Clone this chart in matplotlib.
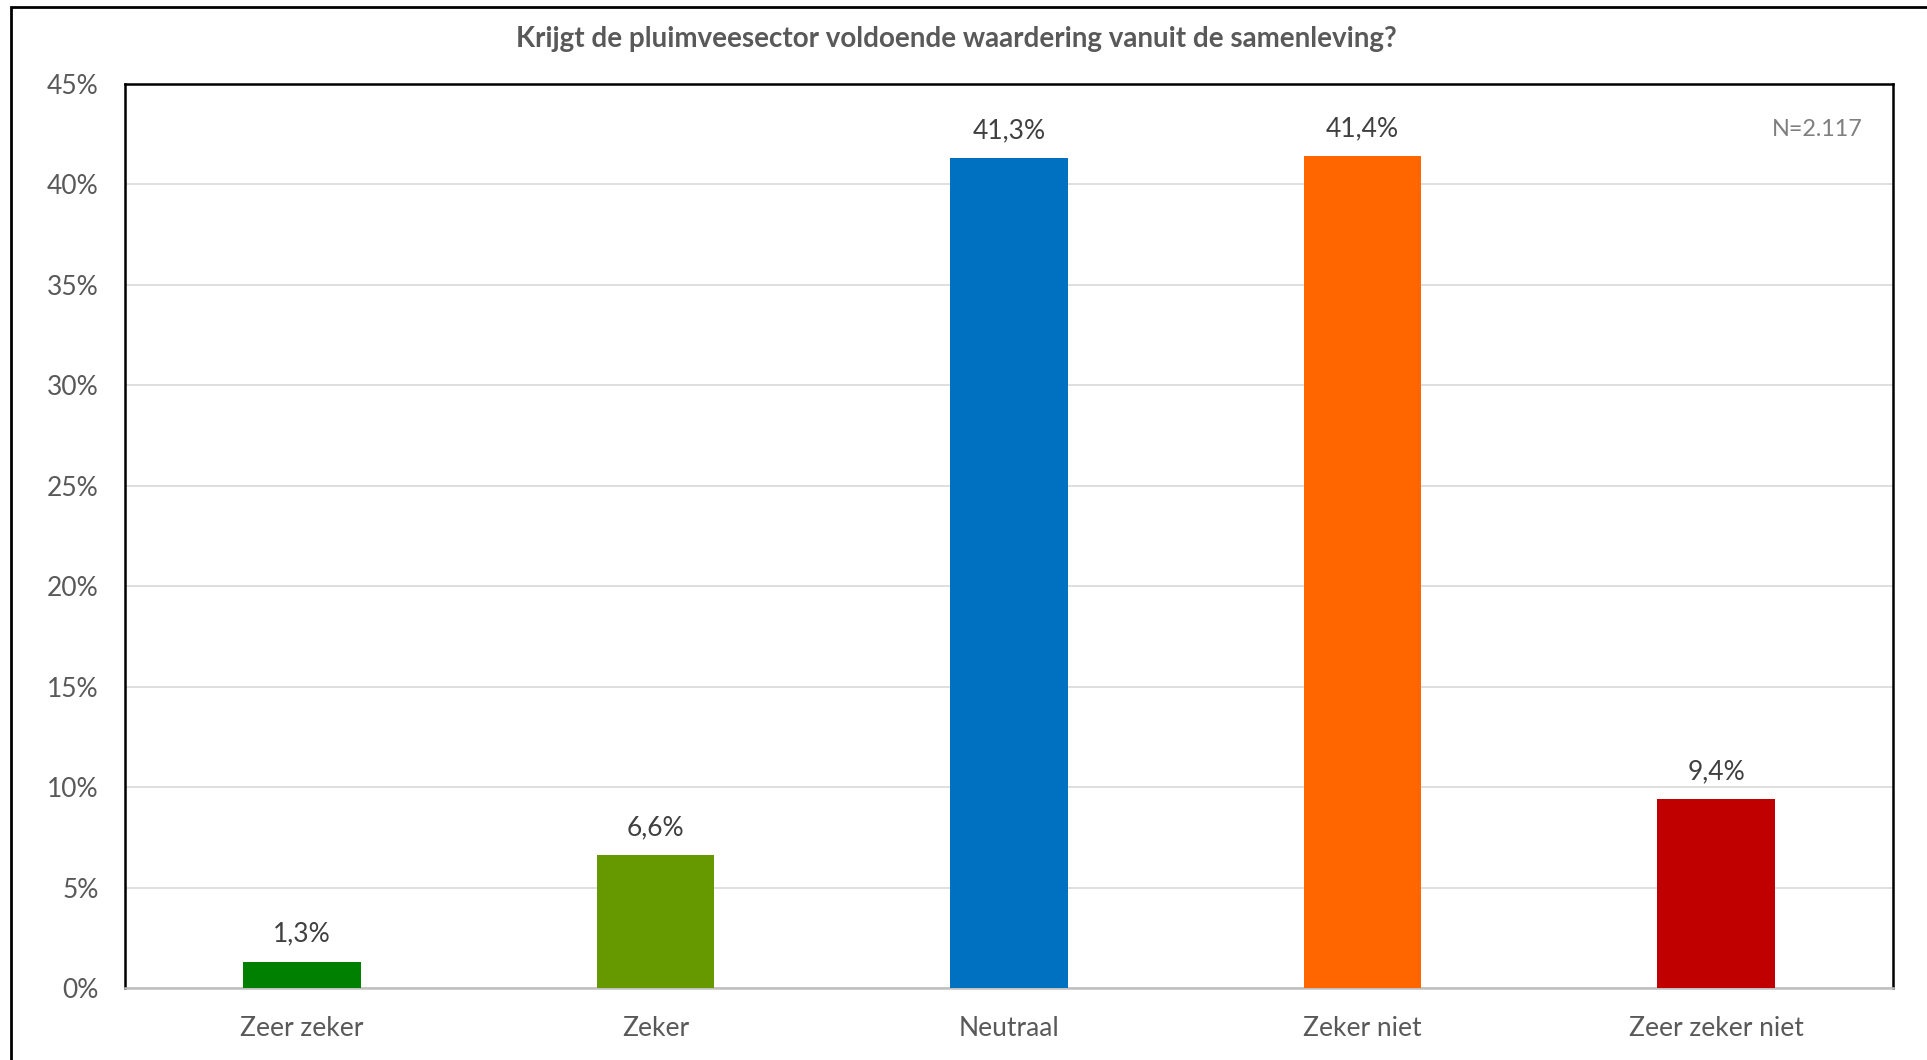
import matplotlib
matplotlib.use("Agg")
import matplotlib.pyplot as plt
from matplotlib.patches import Rectangle

categories = ["Zeer zeker", "Zeker", "Neutraal", "Zeker niet", "Zeer zeker niet"]
values = [1.3, 6.6, 41.3, 41.4, 9.4]
colors = ["#008000", "#669900", "#0070C0", "#FF6600", "#C00000"]
yticks = [0, 5, 10, 15, 20, 25, 30, 35, 40, 45]
title = "Krijgt de pluimveesector voldoende waardering vanuit de samenleving?"
note = "N=2.117"

plt.rcParams['font.family'] = ['Lato', 'DejaVu Sans']

W, H = 1927, 1060
fig = plt.figure(figsize=(W / 100, H / 100), dpi=100)
fig.patch.set_facecolor("white")

# outer frame
fig.patches.append(Rectangle((11 / W, -0.05), 1.2, 1 - 7 / H + 0.05,
                             transform=fig.transFigure, fill=False,
                             edgecolor="#000000", linewidth=2))

ax = fig.add_axes([125 / W, (H - 988) / H, (1893 - 125) / W, (988 - 84) / H])
x = list(range(len(categories)))
ax.bar(x, values, width=0.333, color=colors, zorder=3)

ax.set_xlim(-0.5, len(categories) - 0.5)
ax.set_ylim(0, 45)
ax.set_yticks(yticks)
ax.set_yticklabels([f"{t}%" for t in yticks])
ax.set_xticks(x)
ax.set_xticklabels(categories)
ax.tick_params(axis='both', length=0, labelsize=19, colors="#595959")
ax.tick_params(axis='y', pad=19)
ax.tick_params(axis='x', pad=20)
ax.yaxis.grid(True, color="#D9D9D9", linewidth=1.2, zorder=0)
ax.set_axisbelow(True)

for s in ["left", "top", "right"]:
    ax.spines[s].set_color("#000000")
    ax.spines[s].set_linewidth(1.8)
ax.spines["bottom"].set_color("#BFBFBF")
ax.spines["bottom"].set_linewidth(1.8)

for xi, v in zip(x, values):
    ax.annotate(f"{v:.1f}%".replace(".", ","), (xi, v), xytext=(0, 20),
                textcoords="offset points", ha="center", va="center",
                fontsize=19, color="#404040")

ax.text(0.983, 0.95, note, transform=ax.transAxes, ha="right", va="center",
        fontsize=16.8, color="#7F7F7F")

fig.text(956 / W, 1 - 38.5 / H, title, ha="center", va="center",
         fontsize=20, fontweight="bold", color="#595959")

fig.savefig("out.png", dpi=100)
